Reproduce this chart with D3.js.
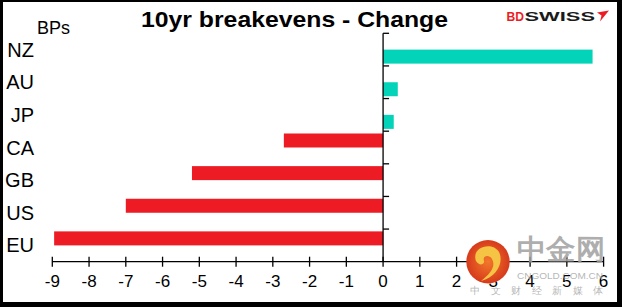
<!DOCTYPE html>
<html>
<head>
<meta charset="utf-8">
<script src="https://cdn.jsdelivr.net/npm/d3@7"></script>
<style>
    body { margin: 0; padding: 0; background: #ffffff; }
    #chart { width: 622px; height: 307px; }
    text { font-family: "Liberation Sans", Arial, sans-serif; }
</style>
</head>
<body>
<div id="chart"></div>
<script>

// =====================================================================================================================
// DATA
// =====================================================================================================================

var categories = ["NZ", "AU", "JP", "CA", "GB", "US", "EU"];
var values = [5.70, 0.40, 0.29, -2.70, -5.20, -7.00, -8.95];
var xTicks = [-9, -8, -7, -6, -5, -4, -3, -2, -1, 0, 1, 2, 3, 4, 5, 6];

var chartTitle = "10yr breakevens - Change";
var unitLabel = "BPs";

var upColor = "#03d4b9";
var downColor = "#ed1c24";

// =====================================================================================================================
// FRAME
// =====================================================================================================================

var W = 622, H = 307;

var svg = d3.select("#chart").append("svg")
    .attr("width", W)
    .attr("height", H);

// black border, thicker on right and bottom
svg.append("rect").attr("x", 0).attr("y", 0).attr("width", W).attr("height", H).attr("fill", "#000");
svg.append("rect").attr("x", 3).attr("y", 2).attr("width", W - 8).attr("height", H - 7).attr("fill", "#fff");

// =====================================================================================================================
// SCALES
// =====================================================================================================================

var x = d3.scaleLinear()
    .domain([-9, 6])
    .range([52.3, 603.6]);

var y = d3.scaleBand()
    .domain(categories)
    .range([33.3, 261.7])
    .padding(0);

// positive series sits in the lower slot, negative in the upper one
var slot = d3.scaleBand()
    .domain(["down", "up"])
    .range([0, y.bandwidth()])
    .paddingInner(0)
    .paddingOuter(0.165);

var rows = categories.map(function(c, i) { return {cat: c, val: values[i]}; });

// =====================================================================================================================
// BARS
// =====================================================================================================================

svg.selectAll(".bar")
    .data(rows)
    .enter().append("rect")
    .attr("class", "bar")
    .attr("x", function(d) { return x(Math.min(0, d.val)); })
    .attr("width", function(d) { return Math.abs(x(d.val) - x(0)); })
    .attr("y", function(d) { return y(d.cat) + slot(d.val >= 0 ? "up" : "down"); })
    .attr("height", slot.bandwidth())
    .attr("fill", function(d) { return d.val >= 0 ? upColor : downColor; });

// =====================================================================================================================
// AXES
// =====================================================================================================================

var axisY = y.range()[1];

// x axis with crossing ticks
var xAxis = svg.append("g");
xAxis.append("line")
    .attr("x1", x(xTicks[0])).attr("x2", x(xTicks[xTicks.length - 1]))
    .attr("y1", axisY).attr("y2", axisY)
    .attr("stroke", "#000").attr("stroke-width", 1.3);
xAxis.selectAll(".xtick")
    .data(xTicks)
    .enter().append("line")
    .attr("class", "xtick")
    .attr("x1", function(d) { return x(d); }).attr("x2", function(d) { return x(d); })
    .attr("y1", axisY - 5).attr("y2", axisY + 5)
    .attr("stroke", "#000").attr("stroke-width", 1.3);
xAxis.selectAll(".xlabel")
    .data(xTicks)
    .enter().append("text")
    .attr("class", "xlabel")
    .attr("x", function(d) { return x(d); })
    .attr("y", 287)
    .attr("text-anchor", "middle")
    .attr("font-size", "17px")
    .attr("fill", "#000")
    .text(function(d) { return d; });

// category axis at zero
var yAxis = svg.append("g");
yAxis.append("line")
    .attr("x1", x(0)).attr("x2", x(0))
    .attr("y1", y.range()[0]).attr("y2", axisY)
    .attr("stroke", "#000").attr("stroke-width", 1.3);
var bounds = categories.map(function(c) { return y(c); });
yAxis.selectAll(".ytick")
    .data(bounds)
    .enter().append("line")
    .attr("class", "ytick")
    .attr("x1", x(0)).attr("x2", x(0) + 6)
    .attr("y1", function(d) { return d; }).attr("y2", function(d) { return d; })
    .attr("stroke", "#000").attr("stroke-width", 1.3);

svg.selectAll(".ylabel")
    .data(categories)
    .enter().append("text")
    .attr("class", "ylabel")
    .attr("x", 34)
    .attr("y", function(d) { return y(d) + y.bandwidth() / 2 + 7; })
    .attr("text-anchor", "end")
    .attr("font-size", "20px")
    .attr("fill", "#000")
    .text(function(d) { return d; });

// =====================================================================================================================
// TITLE, UNIT, LOGO
// =====================================================================================================================

svg.append("text")
    .attr("x", 141).attr("y", 26.7)
    .attr("font-size", "22.5px")
    .attr("font-weight", "bold")
    .attr("textLength", 307)
    .attr("lengthAdjust", "spacingAndGlyphs")
    .text(chartTitle);

svg.append("text")
    .attr("x", 37).attr("y", 34)
    .attr("font-size", "18px")
    .text(unitLabel);

svg.append("text")
    .attr("x", 506.5).attr("y", 21)
    .attr("font-size", "13.5px").attr("font-weight", "bold")
    .attr("fill", "#ed1c24")
    .attr("textLength", 17.5).attr("lengthAdjust", "spacingAndGlyphs")
    .text("BD");
svg.append("text")
    .attr("x", 524.5).attr("y", 21)
    .attr("font-size", "13px").attr("font-weight", "bold")
    .attr("fill", "#1a1a1a")
    .attr("textLength", 70.5).attr("lengthAdjust", "spacingAndGlyphs")
    .text("SWISS");
svg.append("polygon")
    .attr("points", "597,12.5 609,10.5 600,21.5 601.5,15.5")
    .attr("fill", "#ed1c24");

// =====================================================================================================================
// WATERMARK (sits on top of the chart)
// =====================================================================================================================

var grad = svg.append("defs").append("radialGradient").attr("id", "wm");
grad.append("stop").attr("offset", "0%").attr("stop-color", "#f2782a");
grad.append("stop").attr("offset", "100%").attr("stop-color", "#d63a1c");

var wm = svg.append("g");
wm.append("circle")
    .attr("cx", 488).attr("cy", 261.7).attr("r", 21.7)
    .attr("fill", "url(#wm)");
wm.append("path")
    .attr("d", "M476,261 C471,247 492,241 499,252 C504,262 497,277 481,281 C491,273 496,266 492,259 C489,254 482,256 484,261 C485,265 479,266 476,261 Z")
    .attr("fill", "#f6c445");

wm.append("text")
    .attr("x", 517).attr("y", 259)
    .attr("font-family", "Noto Sans CJK SC")
    .attr("font-size", "28px").attr("font-weight", "bold")
    .attr("fill", "#a0a0a0").attr("fill-opacity", 0.85)
    .attr("textLength", 88).attr("lengthAdjust", "spacingAndGlyphs")
    .text("中金网");
wm.append("text")
    .attr("x", 517).attr("y", 278.5)
    .attr("font-size", "9px")
    .attr("fill", "#a8a8a8").attr("fill-opacity", 0.85)
    .attr("textLength", 86).attr("lengthAdjust", "spacingAndGlyphs")
    .text("CNGOLD.COM.CN");
wm.append("text")
    .attr("x", 470).attr("y", 294)
    .attr("font-family", "Noto Sans CJK SC")
    .attr("font-size", "10px")
    .attr("fill", "#a8a8a8").attr("fill-opacity", 0.85)
    .attr("textLength", 133).attr("lengthAdjust", "spacing")
    .text("中文财经新媒体");

</script>
</body>
</html>
